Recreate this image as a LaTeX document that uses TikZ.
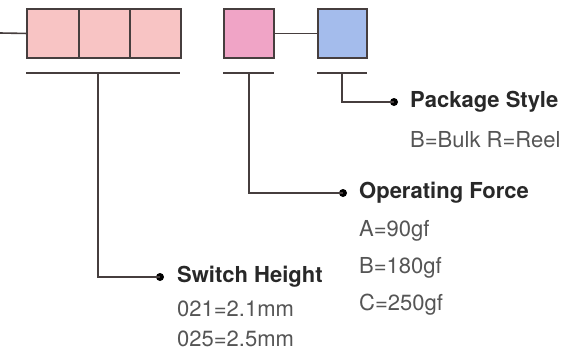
\documentclass[tikz,border=0pt]{standalone}
\usepackage{fontspec}
\setmainfont{TeX Gyre Heros}
\definecolor{lc}{RGB}{70,62,62}
\definecolor{pk1}{RGB}{248,196,196}
\definecolor{pk2}{RGB}{240,164,198}
\definecolor{bl}{RGB}{164,188,236}
\definecolor{hdc}{RGB}{40,40,40}
\definecolor{sbc}{RGB}{85,85,85}
\begin{document}
\begin{tikzpicture}[x=1pt,y=-1pt]
\useasboundingbox (0,0) rectangle (584,360);
\tikzset{
  ln/.style={draw=lc, line width=1.6pt},
  cell/.style={draw=lc, line width=1.9pt, minimum height=49pt, inner sep=0pt, anchor=north west},
  dotn/.style={circle, fill=black, minimum size=8pt, inner sep=0pt},
  hd/.style={anchor=west, inner sep=0pt, text=hdc, font=\fontsize{22}{25}\selectfont\bfseries},
  sb/.style={anchor=west, inner sep=0pt, text=sbc, font=\fontsize{22}{25}\selectfont},
}
% boxes
\node[cell, fill=pk1, minimum width=52pt] (c1) at (26,8) {};
\node[cell, fill=pk1, minimum width=51pt] (c2) at (78,8) {};
\node[cell, fill=pk1, minimum width=51pt] (c3) at (129,8) {};
\node[cell, fill=pk2, minimum width=50pt] (pb) at (223,8) {};
\node[cell, fill=bl, minimum width=49pt] (bb) at (317,8) {};
\coordinate (lstart) at (0,33);
\draw[ln] (lstart) -- (c1.west);
\draw[ln] (pb.east) -- (bb.west);
% underlines
\coordinate (u1a) at (26,73); \coordinate (u1b) at (180,73);
\coordinate (u2a) at (223,73); \coordinate (u2b) at (274,73);
\coordinate (u3a) at (317,73); \coordinate (u3b) at (367,73);
\draw[ln] (u1a) -- (u1b);
\draw[ln] (u2a) -- (u2b);
\draw[ln] (u3a) -- (u3b);
\coordinate (v1) at (98,73);
\coordinate (v2) at (249,73);
\coordinate (v3) at (342,73);
% dots
\node[dotn] (d1) at (160,277) {};
\node[dotn] (d2) at (343,193) {};
\node[dotn] (d3) at (394,102) {};
\draw[ln] (v1) |- (d1.center);
\draw[ln] (v2) |- (d2.center);
\draw[ln] (v3) |- (d3.center);
% texts
\node[hd] (t1) at (177,277) {Switch Height};
\node[sb] (s11) at (177,309) {021=2.1mm};
\node[sb] (s12) at (177,339) {025=2.5mm};
\node[hd] (t2) at (359,193) {Operating Force};
\node[sb] (s21) at (359,231) {A=90gf};
\node[sb] (s22) at (359,268) {B=180gf};
\node[sb] (s23) at (359,305) {C=250gf};
\node[hd] (t3) at (410,102) {Package Style};
\node[sb] (s31) at (410,140) {B=Bulk R=Reel};
\end{tikzpicture}
\end{document}
